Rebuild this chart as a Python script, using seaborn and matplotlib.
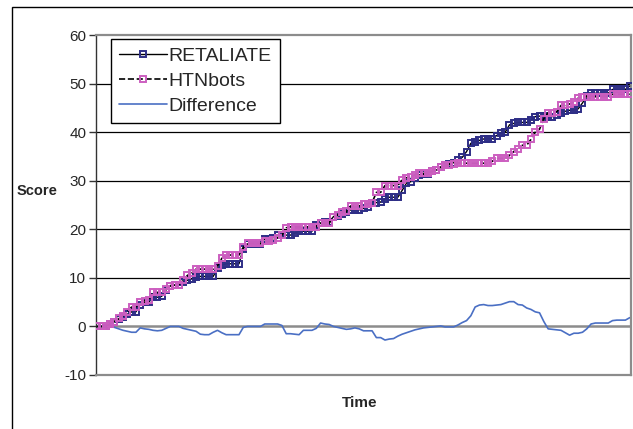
import matplotlib
matplotlib.use("Agg")
import matplotlib.pyplot as plt
import numpy as np
import pandas as pd
import seaborn as sns
from matplotlib.patches import Rectangle

# Valores (un punto por muestra de tiempo)
retaliate = [0, 0, 0, 0.5, 1, 1.5, 2, 2.5, 3, 3, 4.5, 5, 5, 6, 6, 6.2, 7.5, 8.3, 8.5, 8.6,
             9.2, 9.5, 9.8, 10.2, 10.3, 10.3, 10.3, 10.3, 12, 12.6, 12.9, 12.9, 12.9, 12.9, 16, 17, 17, 17, 17, 18,
             18, 18.3, 18.8, 18.8, 18.8, 18.8, 19.2, 19.6, 19.6, 19.6, 19.6, 20.8, 21.3, 21.5, 21.5, 22.6, 22.8, 23.2, 23.5, 24,
             24, 24, 24.3, 24.5, 25.5, 25.5, 25.6, 26.3, 26.6, 26.6, 26.6, 28, 29.5, 29.8, 30.5, 31.2, 31.3, 31.3, 32, 32.2,
             32.8, 33.2, 33.5, 33.7, 34.3, 34.8, 36, 37.7, 38, 38.3, 38.6, 38.6, 38.6, 39.3, 39.8, 40, 41.5, 41.8, 42, 42,
             42, 42.5, 43.2, 43.3, 43.3, 43.2, 43.2, 43.5, 44, 44.3, 44.5, 44.6, 44.8, 46, 47.5, 48, 48, 48, 48, 48,
             48.8, 48.8, 48.8, 48.8, 49.5]

htnbots = [0, 0, 0, 0.5, 1, 1.8, 2.2, 3, 4, 4, 5, 5.3, 5.5, 7, 7, 7, 7.8, 8.4, 8.5, 8.6,
           9.5, 10.5, 11, 11.8, 11.8, 11.8, 11.8, 11.8, 12.5, 14, 14.7, 14.7, 14.7, 14.7, 16.3, 17.1, 17.1, 17.1, 17.1, 17.5,
           17.5, 17.8, 18.3, 18.8, 20.3, 20.5, 20.5, 20.5, 20.5, 20.5, 20.5, 20.5, 21.2, 21.2, 21.2, 22.6, 23, 23.5, 23.7, 24.8,
           24.8, 24.8, 25.2, 25.2, 25.5, 27.6, 27.6, 29, 29, 29, 29, 30.2, 30.6, 30.8, 31.2, 31.5, 31.5, 31.5, 32, 32.2,
           32.8, 33.2, 33.3, 33.5, 33.6, 33.6, 33.6, 33.6, 33.6, 33.6, 33.6, 33.6, 34, 34.6, 34.6, 34.6, 35.2, 36, 36.6, 37.3,
           37.3, 38.5, 40, 40.6, 42.8, 44, 44, 44.2, 45.5, 45.5, 45.8, 46.2, 47, 47.3, 47.3, 47.3, 47.3, 47.3, 47.3, 47.3,
           47.8, 47.8, 47.8, 47.8, 47.8]

diferencia = [0, 0, 0, 0, -0.2, -0.5, -0.8, -1, -1.2, -1.2, -0.3, -0.5, -0.6, -0.8, -0.9, -0.8, -0.4, 0, 0, 0,
              -0.4, -0.6, -0.8, -1, -1.6, -1.7, -1.7, -1.2, -0.8, -1.3, -1.7, -1.7, -1.7, -1.7, -0.2, 0, 0, 0, 0, 0.5,
              0.5, 0.5, 0.5, 0.2, -1.5, -1.5, -1.6, -1.7, -0.8, -0.8, -0.8, -0.4, 0.7, 0.5, 0.4, 0, -0.2, -0.4, -0.6, -0.5,
              -0.3, -0.5, -0.9, -0.9, -0.9, -2.3, -2.3, -2.8, -2.6, -2.5, -2, -1.6, -1.3, -1, -0.7, -0.5, -0.3, -0.2, -0.1, 0,
              0.1, -0.1, -0.1, -0.1, 0.3, 0.8, 1.2, 2.2, 4, 4.4, 4.5, 4.3, 4.3, 4.4, 4.5, 4.8, 5.1, 5.1, 4.5, 4.4,
              3.8, 3.5, 3, 2.8, 1, -0.5, -0.6, -0.7, -0.8, -1.3, -1.8, -1.4, -1.4, -1.2, -0.5, 0.5, 0.7, 0.7, 0.7, 0.7,
              1.2, 1.3, 1.3, 1.3, 1.8]

yticks = [-10, 0, 10, 20, 30, 40, 50, 60]

df = pd.DataFrame({"t": np.arange(len(retaliate)), "RETALIATE": retaliate,
                   "HTNbots": htnbots, "Difference": diferencia})

sns.set_style("white")
plt.rcParams["font.family"] = ["Liberation Sans", "DejaVu Sans"]
plt.rcParams["axes.unicode_minus"] = False

fig = plt.figure(figsize=(6.33, 4.29), dpi=100)
ax = fig.add_axes([96 / 633, 1 - 375 / 429, 535 / 633, 340 / 429])

# Lineas de cuadricula
for y in [10, 20, 30, 40, 50]:
    ax.axhline(y, color="black", lw=0.9, zorder=1)
ax.axhline(0, color="#8c8c8c", lw=1.8, zorder=1)

sns.lineplot(data=df, x="t", y="RETALIATE", ax=ax, color="black", lw=1.0,
             marker="s", markersize=4.5, markerfacecolor="none",
             markeredgecolor="#2e2e86", markeredgewidth=1.4, label="RETALIATE", zorder=3)
sns.lineplot(data=df, x="t", y="HTNbots", ax=ax, color="black", lw=1.2, linestyle="--",
             marker="s", markersize=4.5, markerfacecolor="none",
             markeredgecolor="#cc5fc0", markeredgewidth=1.4, label="HTNbots", zorder=4)
sns.lineplot(data=df, x="t", y="Difference", ax=ax, color="#4a6fc4", lw=1.2,
             label="Difference", zorder=2)

ax.set_xlim(-0.3, len(retaliate) - 0.7)
ax.set_ylim(-10, 60)
ax.set_yticks(yticks)
ax.set_xticks([])
ax.set_xlabel("")
ax.set_ylabel("")
ax.tick_params(axis="y", direction="out", length=5, width=1, color="#333333",
               labelsize=11, pad=2, left=True)
for lado in ["top", "right", "bottom"]:
    ax.spines[lado].set_color("#8c8c8c")
    ax.spines[lado].set_linewidth(1.6)
ax.spines["left"].set_color("#333333")
ax.spines["left"].set_linewidth(1.0)

leg = ax.legend(loc="upper left", bbox_to_anchor=(0.028, 0.988), borderaxespad=0,
                fontsize=14, frameon=True, fancybox=False, edgecolor="black",
                handlelength=2.45, handletextpad=0.1, labelspacing=0.38,
                borderpad=0.42, framealpha=1)
leg.get_frame().set_linewidth(1.0)
leg.set_zorder(10)

fig.text(37 / 633, 1 - 191 / 429, "Score", ha="center", va="center",
         fontsize=10.5, fontweight="bold")
fig.text(360 / 633, 1 - 403 / 429, "Time", ha="center", va="center",
         fontsize=11, fontweight="bold")

# Borde exterior del grafico
fig.patches.append(Rectangle((12 / 633, -0.2), 1.2, 1.2 - 7 / 429, transform=fig.transFigure,
                             fill=False, edgecolor="black", lw=1.0))

fig.savefig("out.png", dpi=100, facecolor="white")
